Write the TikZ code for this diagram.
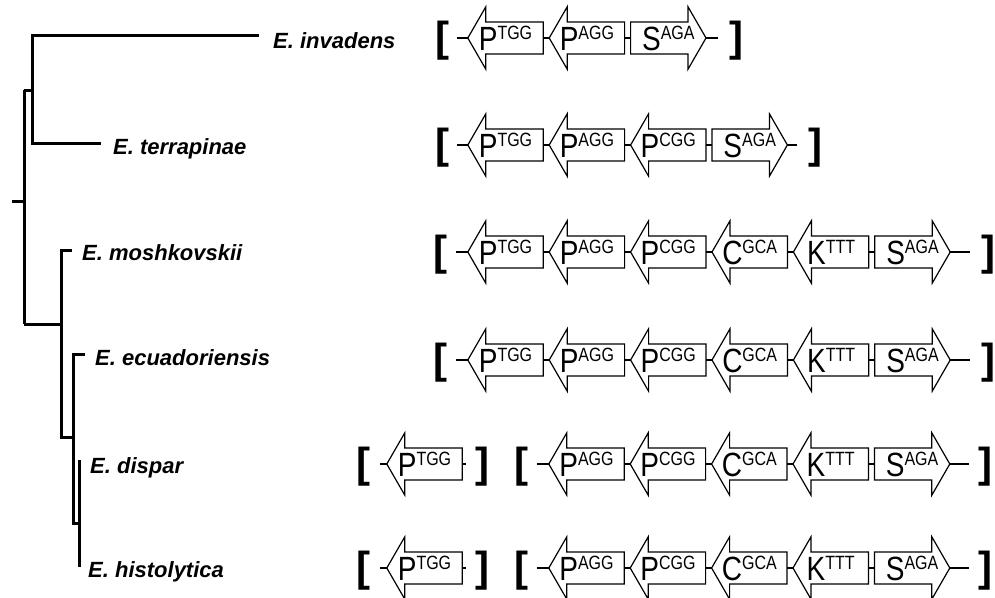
\documentclass[tikz,border=0pt]{standalone}
\usepackage{fontspec}
\setmainfont{Liberation Sans}
\usetikzlibrary{chains,positioning}

\newcommand{\locus}[2]{\scalebox{1}[1.2]{#1\raisebox{8.6pt}{\fontsize{16}{16}\selectfont #2}}}

\begin{document}
\begin{tikzpicture}[x=1pt,y=-1pt]
\tikzstyle{every path}=[line join=miter]
\tikzstyle{branch}=[line width=3pt]
\tikzstyle{link}=[line width=1.2pt]
\tikzstyle{genebox}=[line width=1.2pt]
\tikzstyle{gene}=[minimum width=75pt,minimum height=62pt,inner sep=0pt,
  text height=24pt,text depth=0pt,font=\fontsize{28}{28}\selectfont]
\tikzstyle{taxon}=[anchor=base west,inner sep=0pt,
  font=\bfseries\itshape\fontsize{22}{26}\selectfont]
\tikzstyle{brk}=[inner sep=0pt,font=\bfseries\fontsize{42}{42}\selectfont]

\useasboundingbox (0,0) rectangle (995,597);

%% Draw tree
\coordinate (stem) at (12,201);
\coordinate (root) at (24,201);
\coordinate (c1) at (32,90);
\coordinate (c2) at (61,324);
\coordinate (c3) at (73,437);
\coordinate (c4) at (79,523);
\coordinate (t1) at (259,35);
\coordinate (t2) at (101,143);
\coordinate (t3) at (72,250);
\coordinate (t4) at (85,354);
\coordinate (t5) at (81,461);
\coordinate (t6) at (79,567);

\draw[branch] (stem) -- (root);
\draw[branch] (root |- c1) -- (root |- c2);
\draw[branch] (root |- c1) -- (c1);
\draw[branch] (t1) -| (c1) |- (t2);
\draw[branch] (root |- c2) -- (c2);
\draw[branch] (t3) -| (c2) |- (c3);
\draw[branch] (t4) -| (c3) |- (c4);
\draw[branch] (t5) -| (c4) -- (t6);

\node[taxon] (invadens) at (273,48) {E. invadens};
\node[taxon] (terrapinae) at (113,154) {E. terrapinae};
\node[taxon] (moshkovskii) at (82,260) {E. moshkovskii};
\node[taxon] (ecuadoriensis) at (95,365) {E. ecuadoriensis};
\node[taxon] (dispar) at (90,473) {E. dispar};
\node[taxon] (histolytica) at (88,577) {E. histolytica};

%% Gene clusters
\begin{scope}[start chain=r1 going right,node distance=6pt]
  \node [on chain,gene] at (505.5,38) {\locus{P}{TGG}};
  \node [on chain,gene] {\locus{P}{AGG}};
  \node [on chain,gene] {\locus{S}{AGA}};
\end{scope}
\begin{scope}[start chain=r2 going right,node distance=6pt]
  \node [on chain,gene] at (505.5,145) {\locus{P}{TGG}};
  \node [on chain,gene] {\locus{P}{AGG}};
  \node [on chain,gene] {\locus{P}{CGG}};
  \node [on chain,gene] {\locus{S}{AGA}};
\end{scope}
\begin{scope}[start chain=r3 going right,node distance=6pt]
  \node [on chain,gene] at (505.5,252) {\locus{P}{TGG}};
  \node [on chain,gene] {\locus{P}{AGG}};
  \node [on chain,gene] {\locus{P}{CGG}};
  \node [on chain,gene] {\locus{C}{GCA}};
  \node [on chain,gene] {\locus{K}{TTT}};
  \node [on chain,gene] {\locus{S}{AGA}};
\end{scope}
\begin{scope}[start chain=r4 going right,node distance=6pt]
  \node [on chain,gene] at (505.5,360) {\locus{P}{TGG}};
  \node [on chain,gene] {\locus{P}{AGG}};
  \node [on chain,gene] {\locus{P}{CGG}};
  \node [on chain,gene] {\locus{C}{GCA}};
  \node [on chain,gene] {\locus{K}{TTT}};
  \node [on chain,gene] {\locus{S}{AGA}};
\end{scope}
\node [gene] (r5-0) at (424.5,464) {\locus{P}{TGG}};
\begin{scope}[start chain=r5 going right,node distance=6pt]
  \node [on chain,gene] at (586.5,464) {\locus{P}{AGG}};
  \node [on chain,gene] {\locus{P}{CGG}};
  \node [on chain,gene] {\locus{C}{GCA}};
  \node [on chain,gene] {\locus{K}{TTT}};
  \node [on chain,gene] {\locus{S}{AGA}};
\end{scope}
\node [gene] (r6-0) at (424.5,568) {\locus{P}{TGG}};
\begin{scope}[start chain=r6 going right,node distance=6pt]
  \node [on chain,gene] at (586.5,568) {\locus{P}{AGG}};
  \node [on chain,gene] {\locus{P}{CGG}};
  \node [on chain,gene] {\locus{C}{GCA}};
  \node [on chain,gene] {\locus{K}{TTT}};
  \node [on chain,gene] {\locus{S}{AGA}};
\end{scope}

% arrow outlines pointing left / right
\foreach \g in {r1-1,r1-2,r2-1,r2-2,r2-3,r3-1,r3-2,r3-3,r3-4,r3-5,
                r4-1,r4-2,r4-3,r4-4,r4-5,r5-0,r5-1,r5-2,r5-3,r5-4,
                r6-0,r6-1,r6-2,r6-3,r6-4}
  \draw[genebox] (\g.west) -- ([xshift=18pt]\g.north west)
    -- ([xshift=18pt,yshift=16pt]\g.west) -- ([yshift=16pt]\g.east)
    -- ([yshift=-16pt]\g.east) -- ([xshift=18pt,yshift=-16pt]\g.west)
    -- ([xshift=18pt]\g.south west) -- cycle;
\foreach \g in {r1-3,r2-4,r3-6,r4-6,r5-5,r6-5}
  \draw[genebox] (\g.east) -- ([xshift=-18pt]\g.north east)
    -- ([xshift=-18pt,yshift=16pt]\g.east) -- ([yshift=16pt]\g.west)
    -- ([yshift=-16pt]\g.west) -- ([xshift=-18pt,yshift=-16pt]\g.east)
    -- ([xshift=-18pt]\g.south east) -- cycle;

%% Flanking lines and brackets
\coordinate (e1l) at (457,38);  \coordinate (e1r) at (718,38);
\coordinate (e2l) at (457,145); \coordinate (e2r) at (797,145);
\coordinate (e3l) at (456,252); \coordinate (e3r) at (970,252);
\coordinate (e4l) at (456,360); \coordinate (e4r) at (970,360);
\coordinate (e5a) at (380,464); \coordinate (e5b) at (466,464);
\coordinate (e5l) at (537,464); \coordinate (e5r) at (969,464);
\coordinate (e6a) at (380,568); \coordinate (e6b) at (466,568);
\coordinate (e6l) at (537,568); \coordinate (e6r) at (969,568);

\draw[link] (e1l) -- (r1-1.west) (r1-1.east) -- (r1-2.west)
  (r1-2.east) -- (r1-3.west) (r1-3.east) -- (e1r);
\draw[link] (e2l) -- (r2-1.west) (r2-1.east) -- (r2-2.west)
  (r2-2.east) -- (r2-3.west) (r2-3.east) -- (r2-4.west) (r2-4.east) -- (e2r);
\foreach \r in {3,4}
  \draw[link] (e\r l) -- (r\r-1.west) (r\r-1.east) -- (r\r-2.west)
    (r\r-2.east) -- (r\r-3.west) (r\r-3.east) -- (r\r-4.west)
    (r\r-4.east) -- (r\r-5.west) (r\r-5.east) -- (r\r-6.west)
    (r\r-6.east) -- (e\r r);
\foreach \r in {5,6}
  \draw[link] (e\r a) -- (r\r-0.west) (r\r-0.east) -- (e\r b)
    (e\r l) -- (r\r-1.west) (r\r-1.east) -- (r\r-2.west)
    (r\r-2.east) -- (r\r-3.west) (r\r-3.east) -- (r\r-4.west)
    (r\r-4.east) -- (r\r-5.west) (r\r-5.east) -- (e\r r);

\node[brk] (b1l) at (442.5,41) {[};  \node[brk] (b1r) at (736,41) {]};
\node[brk] (b2l) at (442.5,148) {[}; \node[brk] (b2r) at (815,148) {]};
\node[brk] (b3l) at (440.5,255) {[}; \node[brk] (b3r) at (988.5,255) {]};
\node[brk] (b4l) at (440.5,363) {[}; \node[brk] (b4r) at (988.5,363) {]};
\node[brk] (b5l) at (363,467) {[};   \node[brk] (b5m) at (482,467) {]};
\node[brk] (b5n) at (521,467) {[};   \node[brk] (b5r) at (985.5,467) {]};
\node[brk] (b6l) at (363,571) {[};   \node[brk] (b6m) at (482,571) {]};
\node[brk] (b6n) at (521,571) {[};   \node[brk] (b6r) at (985.5,571) {]};

\end{tikzpicture}
\end{document}
